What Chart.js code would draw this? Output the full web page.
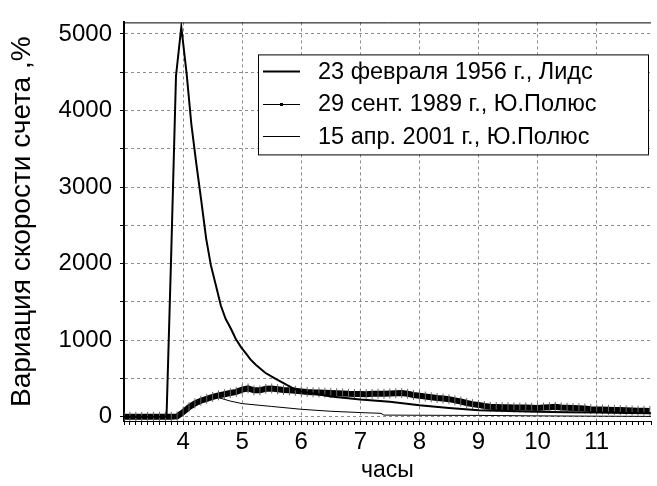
<!DOCTYPE html>
<html>
<head>
<meta charset="utf-8">
<script src="https://cdn.jsdelivr.net/npm/chart.js@4.4.0/dist/chart.umd.min.js"></script>
<style>
  body { margin: 0; background: #fff; }
</style>
</head>
<body>
<canvas id="chart" width="657" height="486"></canvas>
<script>
// часы (UT) и вариации скорости счета, %
const seriesLabels = ["23 февраля 1956 г., Лидс", "29 сент. 1989 г., Ю.Полюс", "15 апр. 2001 г., Ю.Полюс"];

const leedsHours = [3.0, 3.72, 3.80, 3.88, 3.97, 4.06, 4.14, 4.22, 4.31, 4.39, 4.47, 4.56, 4.64, 4.72, 4.81, 4.89,
  4.98, 5.06, 5.14, 5.23, 5.39, 5.56, 5.84, 6.0, 6.5, 7.0, 7.5, 8.0, 8.5, 9.0, 9.5, 10.0, 10.5, 11.0, 11.5, 11.92];
const leedsValues = [0, 0, 2150, 4450, 5090, 4480, 3820, 3330, 2810, 2330, 1980, 1700, 1450, 1280, 1150, 1020,
  910, 830, 750, 680, 575, 497, 381, 330, 265, 225, 195, 150, 115, 85, 75, 65, 60, 55, 50, 45];

const pole89Hours = [3.0, 3.1, 3.2, 3.3, 3.4, 3.5, 3.6, 3.7, 3.8, 3.9,
  4.0, 4.1, 4.2, 4.3, 4.4, 4.5, 4.6, 4.7, 4.8, 4.9,
  5.0, 5.1, 5.2, 5.3, 5.4, 5.5, 5.6, 5.7, 5.8, 5.9,
  6.0, 6.1, 6.2, 6.3, 6.4, 6.5, 6.6, 6.7, 6.8, 6.9,
  7.0, 7.1, 7.2, 7.3, 7.4, 7.5, 7.6, 7.7, 7.8, 7.9,
  8.0, 8.1, 8.2, 8.3, 8.4, 8.5, 8.6, 8.7, 8.8, 8.9,
  9.0, 9.1, 9.2, 9.3, 9.4, 9.5, 9.6, 9.7, 9.8, 9.9,
  10.0, 10.1, 10.2, 10.3, 10.4, 10.5, 10.6, 10.7, 10.8, 10.9,
  11.0, 11.1, 11.2, 11.3, 11.4, 11.5, 11.6, 11.7, 11.8, 11.9];
const pole89Values = [0, 0, 0, 0, 0, 0, 0, 0, 0, 5,
  60, 125, 175, 210, 235, 260, 280, 295, 310, 325,
  355, 370, 345, 345, 365, 370, 360, 350, 345, 340,
  332, 325, 320, 318, 315, 312, 308, 305, 300, 298,
  296, 295, 300, 302, 300, 305, 308, 310, 300, 285,
  275, 265, 255, 245, 238, 230, 215, 200, 180, 165,
  155, 140, 130, 128, 125, 125, 122, 120, 120, 118,
  115, 120, 125, 130, 122, 118, 115, 112, 108, 100,
  95, 95, 92, 90, 88, 85, 83, 80, 78, 75];

const pole01Hours = [3.0, 3.9, 4.0, 4.2, 4.4, 4.6, 4.8, 5.0, 5.5, 6.0, 6.5, 7.0, 7.35, 7.4, 8.0, 9.0, 10.0, 11.0, 11.92];
const pole01Values = [0, 0, 40, 140, 215, 250, 205, 172, 135, 98, 72, 55, 45, 22, 20, 18, 12, 8, 5];

const xTickLabels = [4, 5, 6, 7, 8, 9, 10, 11];
const yGridValues = [0, 500, 1000, 1500, 2000, 2500, 3000, 3500, 4000, 4500, 5000];
const yTickLabels = [0, 1000, 2000, 3000, 4000, 5000];

function toPoints(xs, ys) {
  return xs.map((x, i) => ({ x: x, y: ys[i] }));
}

const FONT = "'Liberation Sans', Arial, sans-serif";
const isWhole = v => Math.abs(v - Math.round(v)) < 1e-6;

// рамка сверху и легенда в рамке
const boxLegend = {
  id: 'boxLegend',
  afterDatasetsDraw(chart) {
    const ctx = chart.ctx;
    const area = chart.chartArea;
    ctx.save();
    ctx.strokeStyle = '#000';
    ctx.lineWidth = 1;
    ctx.beginPath();
    ctx.moveTo(area.left, area.top + 0.5);
    ctx.lineTo(area.right, area.top + 0.5);
    ctx.stroke();

    const bx = area.left + 134, by = area.top + 32, bw = 390, bh = 100;
    ctx.fillStyle = '#fff';
    ctx.fillRect(bx, by, bw, bh);
    ctx.strokeRect(bx + 0.5, by + 0.5, bw, bh);

    ctx.font = '23.5px ' + FONT;
    ctx.textBaseline = 'middle';
    ctx.fillStyle = '#000';
    chart.data.datasets.forEach((ds, i) => {
      const ly = by + 17 + i * 32.5;
      ctx.strokeStyle = '#000';
      ctx.lineWidth = i === 0 ? 2 : 1;
      ctx.beginPath();
      ctx.moveTo(bx + 5, Math.round(ly) + 0.5);
      ctx.lineTo(bx + 42, Math.round(ly) + 0.5);
      ctx.stroke();
      if (i === 1) {
        ctx.fillRect(bx + 22, Math.round(ly) - 1, 3, 3);
      }
      ctx.fillText(ds.label, bx + 60, ly + 1);
    });
    ctx.restore();
  }
};

new Chart(document.getElementById('chart'), {
  type: 'line',
  data: {
    datasets: [
      {
        label: seriesLabels[0],
        data: toPoints(leedsHours, leedsValues),
        borderColor: '#000',
        borderWidth: 2,
        pointRadius: 0,
        tension: 0
      },
      {
        label: seriesLabels[1],
        data: toPoints(pole89Hours, pole89Values),
        borderColor: '#000',
        borderWidth: 6,
        pointStyle: 'line',
        rotation: 90,
        pointRadius: 5,
        pointBorderWidth: 1,
        pointBorderColor: '#666',
        tension: 0
      },
      {
        label: seriesLabels[2],
        data: toPoints(pole01Hours, pole01Values),
        borderColor: '#000',
        borderWidth: 1,
        pointRadius: 0,
        tension: 0
      }
    ]
  },
  options: {
    responsive: false,
    animation: false,
    devicePixelRatio: 1,
    layout: { padding: { top: 13, right: 0, left: 0, bottom: 0 } },
    plugins: {
      legend: { display: false },
      tooltip: { enabled: false }
    },
    scales: {
      x: {
        type: 'linear',
        min: 3,
        max: 11.92,
        afterFit: s => { s.height = 65; },
        title: {
          display: true,
          text: 'часы',
          color: '#000',
          font: { family: FONT, size: 23 },
          padding: { top: 0, bottom: 2 }
        },
        ticks: {
          stepSize: 0.1,
          autoSkip: false,
          maxRotation: 0,
          padding: 3,
          color: '#000',
          font: { family: FONT, size: 24 },
          callback: v => (isWhole(v) && xTickLabels.includes(Math.round(v))) ? String(Math.round(v)) : ''
        },
        grid: {
          color: c => (c.tick && isWhole(c.tick.value) && c.tick.value > 3) ? '#8c8c8c' : 'rgba(0,0,0,0)',
          lineWidth: 1,
          tickColor: '#000',
          tickLength: 4,
          tickBorderDash: [8, 0]
        },
        border: { display: true, color: '#000', width: 1, dash: [3, 3] }
      },
      y: {
        min: -55,
        max: 5150,
        afterFit: s => { s.width = 124; },
        afterBuildTicks: s => { s.ticks = yGridValues.map(v => ({ value: v })); },
        title: {
          display: true,
          text: 'Вариация скорости счета ,%',
          color: '#000',
          font: { family: FONT, size: 28 },
          padding: { top: 5, bottom: 0 }
        },
        ticks: {
          padding: 8,
          color: '#000',
          font: { family: FONT, size: 24 },
          callback: v => yTickLabels.includes(v) ? String(v) : ''
        },
        grid: {
          color: '#8c8c8c',
          lineWidth: 1,
          tickColor: '#000',
          tickLength: 4,
          tickBorderDash: [8, 0]
        },
        border: { display: true, color: '#000', width: 2, dash: [3, 3] }
      }
    }
  },
  plugins: [boxLegend]
});
</script>
</body>
</html>
